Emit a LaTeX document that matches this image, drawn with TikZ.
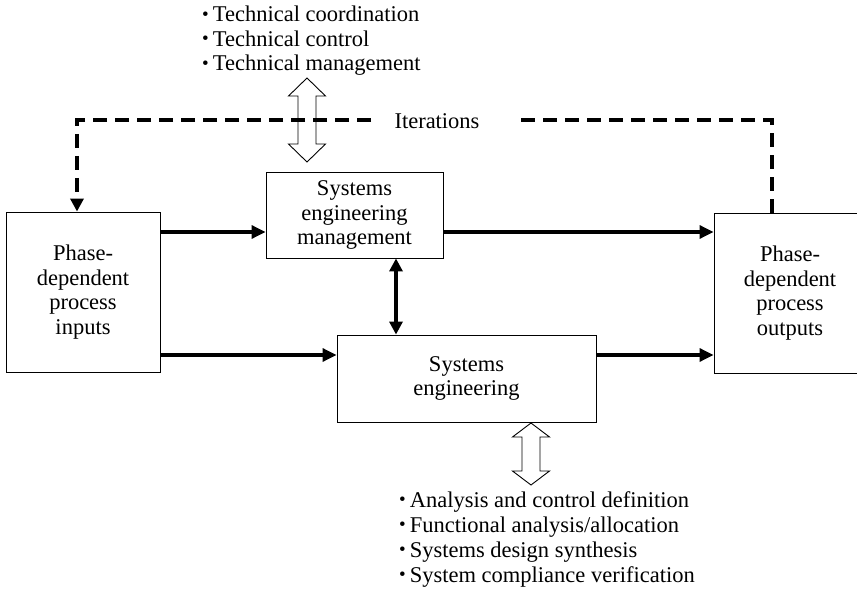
\documentclass[tikz,border=0pt]{standalone}
\usepackage{fontspec}
\setmainfont{Liberation Serif}
\usetikzlibrary{arrows.meta}

\newcommand\txt{\fontsize{22.5}{24.5}\selectfont}
\newcommand\bul{\raisebox{1.5pt}{\fontsize{19}{19}\selectfont\textbullet}\hspace{4pt}}

\tikzset{
  box/.style={draw, line width=0.9pt, align=center, font=\txt, inner sep=0pt},
  flow/.style={line width=3.2pt, -{Triangle[length=14pt,width=13pt]}},
  both/.style={line width=3.2pt, {Triangle[length=13pt,width=13pt]}-{Triangle[length=13pt,width=13pt]}},
  iter/.style={line width=3.2pt, dash pattern=on 14pt off 8pt},
  iterhead/.style={iter, -{Triangle[length=13pt,width=13pt]}},
  hollow/.style={draw, line width=0.9pt, line join=miter},
  item/.style={font=\txt, anchor=base west, inner sep=0pt},
}

\begin{document}
\begin{tikzpicture}[x=1pt,y=-1pt]
  \useasboundingbox (0,0) rectangle (857,591);

  % process blocks
  \node[box, minimum width=154pt, minimum height=160pt] (inputs) at (83,292)
    {Phase-\\dependent\\process\\inputs};
  \node[box, minimum width=177pt, minimum height=86pt] (sem) at (354.5,215)
    {Systems\\engineering\\management};
  \node[box, minimum width=259pt, minimum height=87pt] (se) at (466.5,378.5)
    {Systems\\engineering};
  \node[box, minimum width=152pt, minimum height=160pt] (outputs) at (790,293)
    {Phase-\\dependent\\process\\outputs};

  % main flows
  \draw[flow] (inputs.east |- 0,232) -- (sem.west |- 0,232);
  \draw[flow] (sem.east |- 0,232) -- (outputs.west |- 0,232);
  \draw[flow] (inputs.east |- 0,355) -- (se.west |- 0,355);
  \draw[flow] (se.east |- 0,355) -- (outputs.west |- 0,355);
  \draw[both] (sem.south -| 396,0) -- (se.north -| 396,0);

  % iteration loop
  \node[font=\txt, inner sep=0pt] (iterlbl) at (437,121) {Iterations};
  \coordinate (iterR) at (514,120);
  \coordinate (iterL) at (371,120);
  \draw[iter] (outputs.north -| 772,0) -- (772,120) -- (iterR);
  \draw[iterhead] (iterL) -- (77,120) -- (inputs.north -| 77,0);

  % hollow double arrows
  \draw[hollow] (307,78) -- (325.5,96) -- (316,96) -- (316,144) -- (325.5,144)
    -- (307,162) -- (288.5,144) -- (298,144) -- (298,96) -- (288.5,96) -- cycle;
  \draw[hollow] (531,423) -- (549.5,437) -- (540,437) -- (540,471) -- (549.5,471)
    -- (531,485) -- (512.5,471) -- (522,471) -- (522,437) -- (512.5,437) -- cycle;

  % management activities
  \node[item] (t1) at (202,22) {\bul Technical coordination};
  \node[item] (t2) at (202,46.5) {\bul Technical control};
  \node[item] (t3) at (202,71) {\bul Technical management};

  % engineering activities
  \node[item] (b1) at (399,507) {\bul Analysis and control definition};
  \node[item] (b2) at (399,532) {\bul Functional analysis/allocation};
  \node[item] (b3) at (399,557) {\bul Systems design synthesis};
  \node[item] (b4) at (399,582) {\bul System compliance verification};
\end{tikzpicture}
\end{document}
